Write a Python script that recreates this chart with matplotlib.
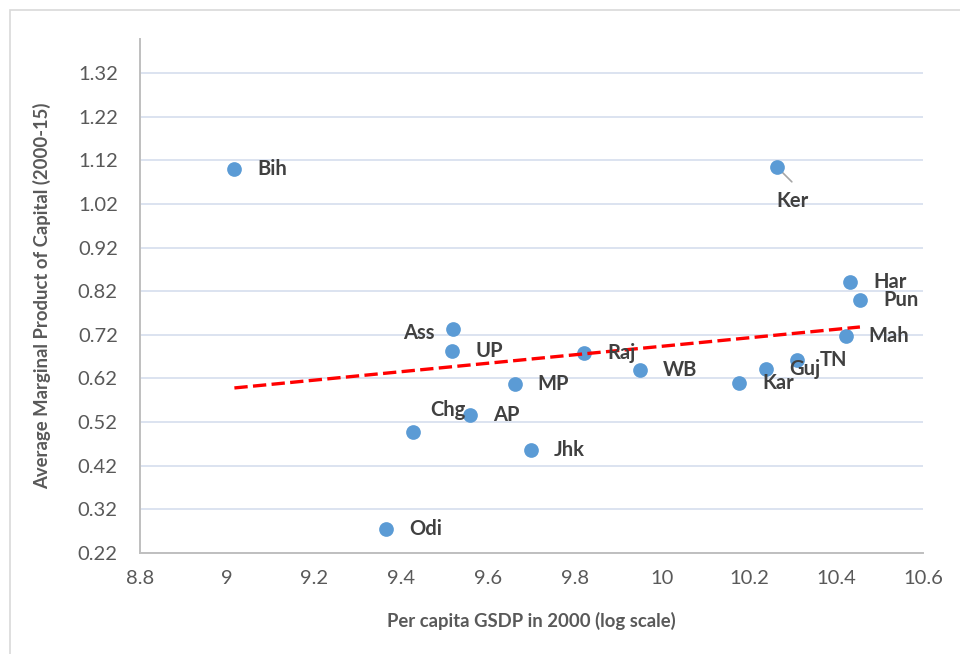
import numpy as np
import matplotlib
matplotlib.use("Agg")
import matplotlib.pyplot as plt
from matplotlib.patches import Rectangle

# State-level data
states = ["Bih", "Ker", "Har", "Pun", "Ass", "UP", "Chg", "AP", "Odi",
          "MP", "Jhk", "Raj", "WB", "Kar", "Guj", "TN", "Mah"]
gsdp_log = [9.017, 10.264, 10.433, 10.455, 9.520, 9.518, 9.427, 9.559, 9.366,
            9.661, 9.699, 9.821, 9.950, 10.177, 10.239, 10.310, 10.422]
mpk = [1.101, 1.105, 0.840, 0.799, 0.734, 0.684, 0.4975, 0.537, 0.274,
       0.608, 0.455, 0.678, 0.640, 0.610, 0.641, 0.663, 0.718]

x_ticks = [8.8, 9.0, 9.2, 9.4, 9.6, 9.8, 10.0, 10.2, 10.4, 10.6]
x_tick_labels = ["8.8", "9", "9.2", "9.4", "9.6", "9.8", "10", "10.2", "10.4", "10.6"]
y_ticks = [0.22, 0.32, 0.42, 0.52, 0.62, 0.72, 0.82, 0.92, 1.02, 1.12, 1.22, 1.32]

# label offsets in pixels (default: right of the point)
label_offsets = {"Ker": (0, -34), "Ass": (-19, -4), "Chg": (18, 22)}
label_ha = {"Ass": "right"}

plt.rcParams["font.family"] = ["Lato", "DejaVu Sans"]

fig = plt.figure(figsize=(9.6, 6.54), dpi=100)
ax = fig.add_axes([140 / 960, 1 - 553 / 654, 783 / 960, 514 / 654])

# outer chart border
fig.patches.append(Rectangle((10 / 960, -0.1), 1.2, 1 - 10 / 654 + 0.1,
                             transform=fig.transFigure, fill=False,
                             edgecolor="#D9D9D9", linewidth=1.2))

ax.set_xlim(8.8, 10.6)
ax.set_ylim(0.22, 1.398)
ax.set_xticks(x_ticks)
ax.set_xticklabels(x_tick_labels)
ax.set_yticks(y_ticks)
ax.set_yticklabels([f"{v:.2f}" for v in y_ticks])

ax.grid(axis="y", color="#D6DEEE", linewidth=1.2)
ax.set_axisbelow(True)
for s in ["top", "right"]:
    ax.spines[s].set_visible(False)
for s in ["left", "bottom"]:
    ax.spines[s].set_color("#BFBFBF")
    ax.spines[s].set_linewidth(1.4)
ax.tick_params(length=0, labelsize=14.5, labelcolor="#595959")
ax.tick_params(axis="x", pad=12)
ax.tick_params(axis="y", pad=16)

ax.scatter(gsdp_log, mpk, s=112, color="#5B9BD5", zorder=3, linewidths=0)

# linear trendline
coef = np.polyfit(gsdp_log, mpk, 1)
xs = np.array([min(gsdp_log), max(gsdp_log)])
ax.plot(xs, np.polyval(coef, xs), color="#FF0000", linewidth=2.4,
        linestyle=(0, (4, 1.6)), zorder=4)

for name, x, y in zip(states, gsdp_log, mpk):
    dx, dy = label_offsets.get(name, (23, 0))
    ax.annotate(name, (x, y), xytext=(dx, dy), textcoords="offset pixels",
                ha=label_ha.get(name, "left"), va="center", fontsize=14.5,
                fontweight="bold", color="#404040", zorder=5)

# leader line for Ker
ax.annotate("", (gsdp_log[1], mpk[1]), xytext=(15, -15), textcoords="offset pixels",
            arrowprops=dict(arrowstyle="-", color="#A6A6A6", lw=1.2, shrinkA=0, shrinkB=0),
            zorder=2)

ax.set_xlabel("Per capita GSDP in 2000 (log scale)", fontsize=13.3,
              fontweight="bold", color="#595959", labelpad=18)
ax.set_ylabel("Average Marginal Product of Capital (2000-15)", fontsize=13.3,
              fontweight="bold", color="#595959", labelpad=19)

fig.savefig("out.png", dpi=100)
